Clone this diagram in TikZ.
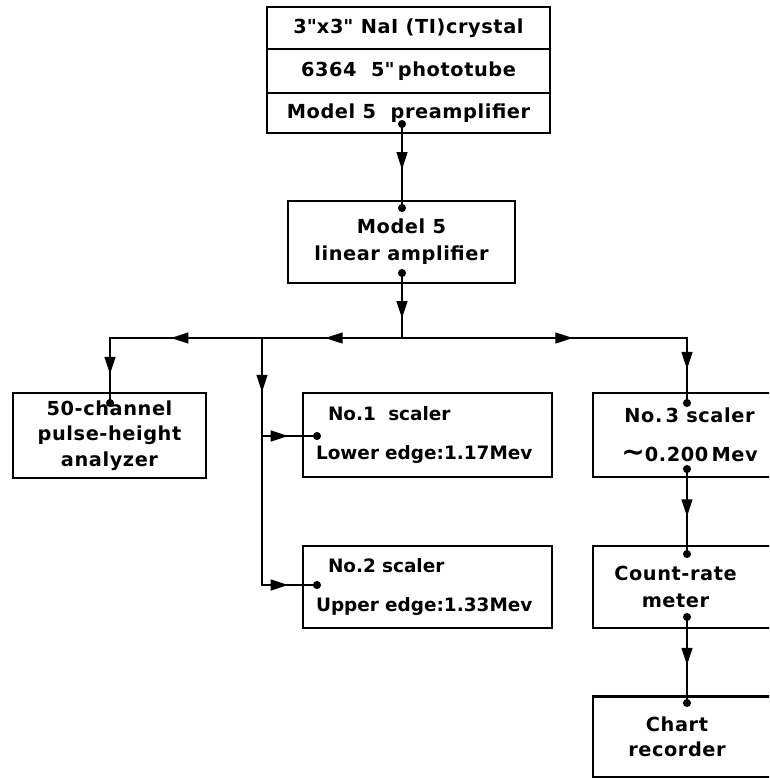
\documentclass[tikz,border=0pt]{standalone}
\usepackage{fontspec}
\setmainfont{DejaVu Sans}[LetterSpace=3]
\usetikzlibrary{arrows.meta,decorations.markings}
\begin{document}
\begin{tikzpicture}[x=0.02cm,y=-0.02cm]
		\tikzset{box/.style = {shape=rectangle,draw,line width=1.6pt,inner sep=0pt,font=\bfseries\fontsize{11}{14.5}\selectfont}}
		\tikzset{scalerbox/.style = {box,minimum width=4.98cm,text width=4.46cm,align=left,font=\bfseries\fontsize{10.5}{14.5}\selectfont\addfontfeature{LetterSpace=0}}}
		\tikzset{dot/.style = {shape=circle,fill,inner sep=0pt,minimum size=4.6pt}}
		\tikzset{wire/.style = {draw,line width=1.5pt,line cap=rect}}
		\tikzset{arr/.style = {postaction={decorate},decoration={markings,mark=at position #1 with {\arrow{Triangle[length=10pt,width=6pt]}}}}}
		\useasboundingbox (0,0) rectangle (769,778);
		\clip (0,0) rectangle (769,778);
		% detector head
		\node[box,minimum width=5.66cm,minimum height=0.84cm] (crystal) at (408.5,28) {3\textquotedbl x3\textquotedbl\ NaI (TI)crystal};
		\node[box,minimum width=5.66cm,minimum height=0.88cm] (tube) at (408.5,71) {6364~~5\textquotedbl\,phototube};
		\node[box,minimum width=5.66cm,minimum height=0.80cm] (preamp) at (408.5,113) {Model 5~~preamplifier};
		\node[box,minimum width=4.54cm,minimum height=1.64cm,align=center] (linamp) at (401.5,242) {Model 5\\[1pt]linear amplifier};
		% counting units
		\node[box,minimum width=3.86cm,minimum height=1.70cm,align=center] (pha) at (109.5,435.5) {50-channel\\pulse-height\\analyzer};
		\node[scalerbox,minimum height=1.68cm] (scA) at (427.5,435) {\hspace*{0.24cm}No.1~~scaler\\[8pt]Lower edge:1.17Mev};
		\node[scalerbox,minimum height=1.64cm] (scB) at (427.5,587) {\hspace*{0.24cm}No.2~scaler\\[8pt]Upper edge:1.33Mev};
		\node[box,minimum width=3.86cm,minimum height=1.68cm,align=center] (scC) at (689.5,435) {No.\,3~scaler\\[8pt]{\fontsize{16}{14}\selectfont∼}0.200\,Mev};
		\node[box,minimum width=3.86cm,minimum height=1.64cm,align=center] (crm) at (689.5,587) {Count-rate\hspace*{0.56cm}\\[1pt]meter\hspace*{0.56cm}};
		\node[box,minimum width=3.86cm,minimum height=1.62cm,align=center] (chart) at (689.5,737) {Chart\hspace*{0.5cm}\\recorder\hspace*{0.5cm}};
		% connection dots
		\node[dot] (preO) at (402,124) {};
		\node[dot] (linI) at (402,208) {};
		\node[dot] (linO) at (402,273) {};
		\node[dot] (phaI) at (110,403) {};
		\node[dot] (scAI) at (317,436) {};
		\node[dot] (scBI) at (317,585) {};
		\node[dot] (scCI) at (687,403) {};
		\node[dot] (scCO) at (687,469) {};
		\node[dot] (crmI) at (687,554) {};
		\node[dot] (crmO) at (687,617) {};
		\node[dot] (chartI) at (687,703) {};
		\coordinate (bus) at (402,338);
		\coordinate (busL) at (110,338);
		\coordinate (busM) at (262,338);
		\coordinate (busR) at (687,338);
		\coordinate (brA) at (262,436);
		\coordinate (brB) at (262,585);
		% signal paths
		\path[wire,arr=0.55] (preO) -- (linI);
		\path[wire,arr=0.68] (linO) -- (bus);
		\path[wire,arr=0.55] (bus) -- (busM);
		\path[wire,arr=0.6] (busM) -- (busL);
		\path[wire,arr=0.6] (busL) -- (phaI);
		\path[wire,arr=0.6] (bus) -- (busR);
		\path[wire,arr=0.52] (busR) -- (scCI);
		\path[wire,arr=0.22] (busM) -- (brB);
		\path[wire,arr=0.52] (brA) -- (scAI);
		\path[wire,arr=0.52] (brB) -- (scBI);
		\path[wire,arr=0.57] (scCO) -- (crmI);
		\path[wire,arr=0.57] (crmO) -- (chartI);
	\end{tikzpicture}
\end{document}
